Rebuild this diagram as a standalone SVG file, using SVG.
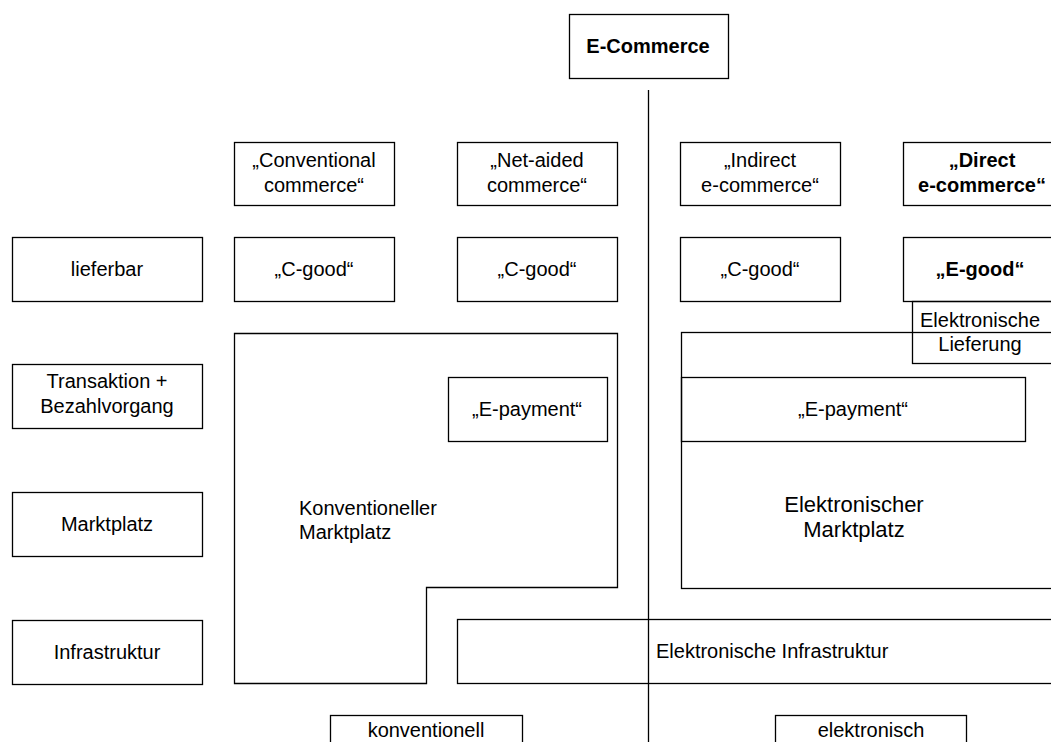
<svg xmlns="http://www.w3.org/2000/svg" width="1051" height="742" viewBox="0 0 1051 742">
<style>
  .b{fill:none;stroke:#000;stroke-width:1.3}
  .t{font-family:"Liberation Sans",Arial,sans-serif;font-size:20px;fill:#000;text-anchor:middle}
  .bold{font-weight:bold}
  .l{text-anchor:start}
</style>
<rect width="1051" height="742" fill="#fff"/>
<g id="connectors">
  <line x1="648.5" y1="90" x2="648.5" y2="742" stroke="#000" stroke-width="1.3"/>
</g>
<g id="ecommerce">
  <rect class="b" x="569.5" y="14.5" width="159" height="64"/>
  <text class="t bold" x="648" y="53">E-Commerce</text>
</g>
<g id="conventional">
  <rect class="b" x="234.5" y="142.5" width="160" height="63"/>
  <text class="t" x="314" y="167">„Conventional</text>
  <text class="t" x="314" y="192">commerce“</text>
</g>
<g id="netaided">
  <rect class="b" x="457.5" y="142.5" width="160" height="63"/>
  <text class="t" x="537" y="167">„Net-aided</text>
  <text class="t" x="537" y="192">commerce“</text>
</g>
<g id="indirect">
  <rect class="b" x="680.5" y="142.5" width="160" height="63"/>
  <text class="t" x="760" y="167">„Indirect</text>
  <text class="t" x="760" y="192">e-commerce“</text>
</g>
<g id="direct">
  <rect class="b" x="903.5" y="142.5" width="160" height="63"/>
  <text class="t bold" x="982" y="167">„Direct</text>
  <text class="t bold" x="982" y="192">e-commerce“</text>
</g>
<g id="lieferbar">
  <rect class="b" x="12.5" y="237.5" width="190" height="64"/>
  <text class="t" x="107" y="276">lieferbar</text>
</g>
<g id="cgood1">
  <rect class="b" x="234.5" y="237.5" width="160" height="64"/>
  <text class="t" x="314" y="276">„C-good“</text>
</g>
<g id="cgood2">
  <rect class="b" x="457.5" y="237.5" width="160" height="64"/>
  <text class="t" x="537" y="276">„C-good“</text>
</g>
<g id="cgood3">
  <rect class="b" x="680.5" y="237.5" width="160" height="64"/>
  <text class="t" x="760" y="276">„C-good“</text>
</g>
<g id="egood">
  <rect class="b" x="903.5" y="237.5" width="160" height="64"/>
  <text class="t bold" x="980" y="276">„E-good“</text>
</g>
<g id="lieferung">
  <rect class="b" x="912.5" y="301.5" width="150" height="62"/>
  <text class="t" x="980" y="327">Elektronische</text>
  <text class="t" x="980" y="351">Lieferung</text>
</g>
<g id="transaktion">
  <rect class="b" x="12.5" y="364.5" width="190" height="64"/>
  <text class="t" x="107" y="388">Transaktion +</text>
  <text class="t" x="107" y="413">Bezahlvorgang</text>
</g>
<g id="marktplatz">
  <rect class="b" x="12.5" y="492.5" width="190" height="64"/>
  <text class="t" x="107" y="531">Marktplatz</text>
</g>
<g id="infrastruktur">
  <rect class="b" x="12.5" y="620.5" width="190" height="64"/>
  <text class="t" x="107" y="659">Infrastruktur</text>
</g>
<g id="konv-marktplatz">
  <polygon class="b" points="234.5,333.5 617.5,333.5 617.5,587.5 426.5,587.5 426.5,683.5 234.5,683.5"/>
  <text class="t l" x="299" y="515">Konventioneller</text>
  <text class="t l" x="299" y="539">Marktplatz</text>
</g>
<g id="epayment1">
  <rect class="b" x="448.5" y="377.5" width="159" height="64"/>
  <text class="t" x="527" y="416">„E-payment“</text>
</g>
<g id="elek-marktplatz">
  <rect class="b" x="681.5" y="332.5" width="380" height="256"/>
  <text class="t" x="854" y="512" style="font-size:22px">Elektronischer</text>
  <text class="t" x="854" y="537" style="font-size:22px">Marktplatz</text>
</g>
<g id="epayment2">
  <rect class="b" x="681.5" y="377.5" width="344" height="64"/>
  <text class="t" x="853" y="416">„E-payment“</text>
</g>
<g id="elek-infra">
  <rect class="b" x="457.5" y="619.5" width="610" height="64"/>
  <text class="t l" x="656" y="658">Elektronische Infrastruktur</text>
</g>
<g id="konventionell">
  <rect class="b" x="330.5" y="715.5" width="192" height="40"/>
  <text class="t" x="426" y="737">konventionell</text>
</g>
<g id="elektronisch">
  <rect class="b" x="775.5" y="715.5" width="191" height="40"/>
  <text class="t" x="871" y="737">elektronisch</text>
</g>
</svg>
